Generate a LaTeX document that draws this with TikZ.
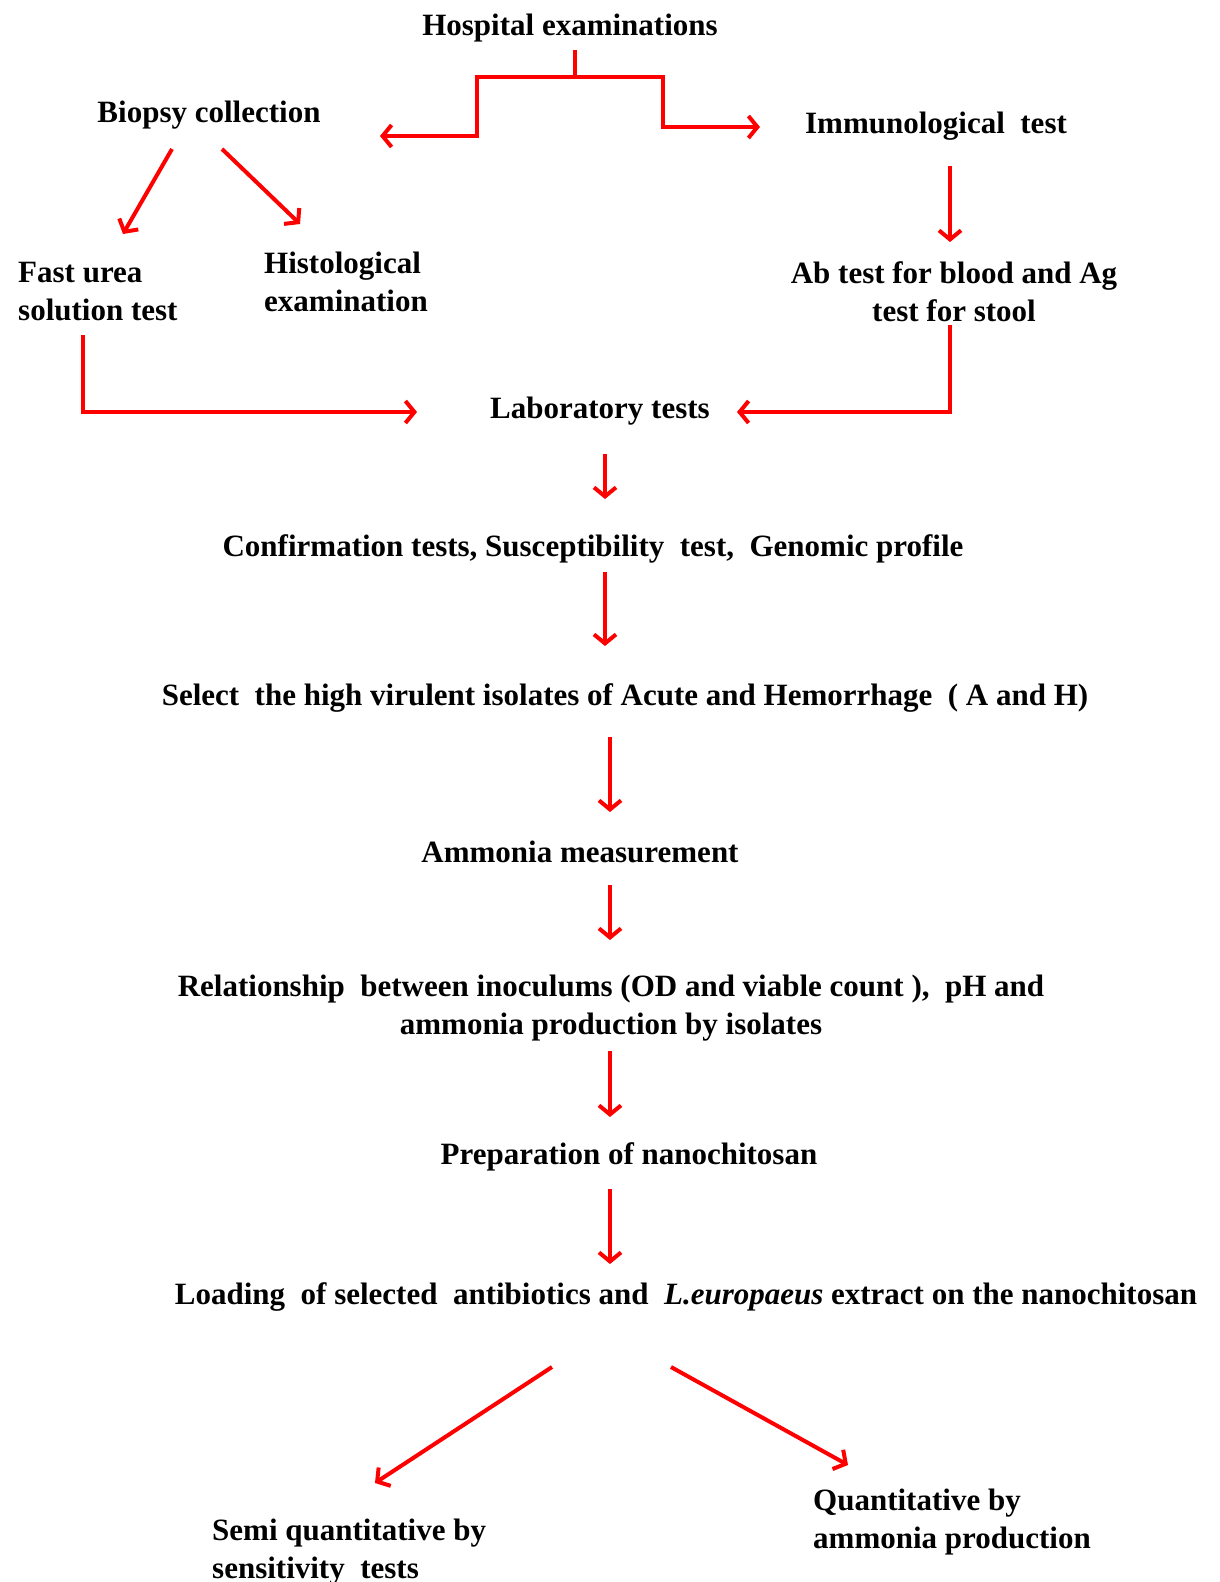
\documentclass[tikz,border=0pt]{standalone}
\usepackage{fontspec}
\setmainfont{Liberation Serif}
\usetikzlibrary{arrows.meta,calc}
\tikzstyle{arrow}=[draw,red,line width=4pt,-{Straight Barb[length=9pt,width=22pt]}]
\tikzstyle{label}=[inner sep=0pt, font=\fontsize{31}{38}\selectfont\bfseries]

\begin{document}
\begin{tikzpicture}[x=1pt, y=-1pt]
  \useasboundingbox (0,0) rectangle (1219,1582);

  \node [label] (hosp) at (570,28) {Hospital examinations};
  \node [label] (biopsy) at (209,115) {Biopsy collection};
  \node [label] (immuno) at (936,126) {Immunological~~test};
  \node [label, anchor=west, align=left] (fast) at (18,292) {Fast urea\\solution test};
  \node [label, anchor=west, align=left] (histo) at (264,282) {Histological\\examination};
  \node [label, align=center] (abtest) at (954,292) {Ab test for blood and Ag\\test for stool};
  \node [label] (lab) at (600,411) {Laboratory tests};
  \node [label] (confirm) at (593,549) {Confirmation tests, Susceptibility~ test,~ Genomic profile};
  \node [label] (select) at (625,698) {Select~ the high virulent isolates of Acute and Hemorrhage~ ( A and H)};
  \node [label] (ammonia) at (580,852) {Ammonia measurement};
  \node [label, align=center] (relation) at (611,1008)
    {Relationship~ between inoculums (OD and viable count ),~ pH and\\ammonia production by isolates};
  \node [label] (prep) at (629,1157) {Preparation of nanochitosan};
  \node [label] (loading) at (686,1297)
    {Loading~ of selected~ antibiotics and~ \textit{L.europaeus} extract on the nanochitosan};
  \node [label, anchor=west, align=left] (semi) at (212,1552) {Semi quantitative by\\sensitivity~ tests};
  \node [label, anchor=west, align=left] (quant) at (813,1522) {Quantitative by\\ammonia production};

  % split below the hospital examinations
  \coordinate (split) at (575,77);
  \draw [red, line width=4pt] ([shift={(5,22)}]hosp.center) -- (split);
  \draw [arrow] (split) -| ([shift={(268,21)}]biopsy.center) -- ([shift={(171,21)}]biopsy.center);
  \draw [arrow] (split) -| ([shift={(-273,1)}]immuno.center) -- ([shift={(-176,1)}]immuno.center);

  \draw [arrow] ([shift={(-37,34)}]biopsy.center) -- ([shift={(105,-58)}]fast.west);
  \draw [arrow] ([shift={(13,34)}]biopsy.center) -- ([shift={(36,-58)}]histo.west);
  \draw [arrow] ([shift={(14,40)}]immuno.center) -- ([shift={(-4,-50)}]abtest.center);

  \draw [arrow] ([shift={(65,43)}]fast.west) |- ([shift={(-183,1)}]lab.center);
  \draw [arrow] ([shift={(-4,33)}]abtest.center) |- ([shift={(137,1)}]lab.center);

  % main column
  \draw [arrow] ([shift={(5,43)}]lab.center) -- ([shift={(12,-50)}]confirm.center);
  \draw [arrow] ([shift={(12,23)}]confirm.center) -- ([shift={(-20,-52)}]select.center);
  \draw [arrow] ([shift={(-15,39)}]select.center) -- ([shift={(30,-40)}]ammonia.center);
  \draw [arrow] ([shift={(30,33)}]ammonia.center) -- ([shift={(-1,-68)}]relation.center);
  \draw [arrow] ([shift={(-1,43)}]relation.center) -- ([shift={(-19,-40)}]prep.center);
  \draw [arrow] ([shift={(-19,32)}]prep.center) -- ([shift={(-76,-33)}]loading.center);

  \draw [arrow] ([shift={(-134,70)}]loading.center) -- ([shift={(163,-69)}]semi.west);
  \draw [arrow] ([shift={(-15,70)}]loading.center) -- ([shift={(35,-57)}]quant.west);
\end{tikzpicture}
\end{document}
